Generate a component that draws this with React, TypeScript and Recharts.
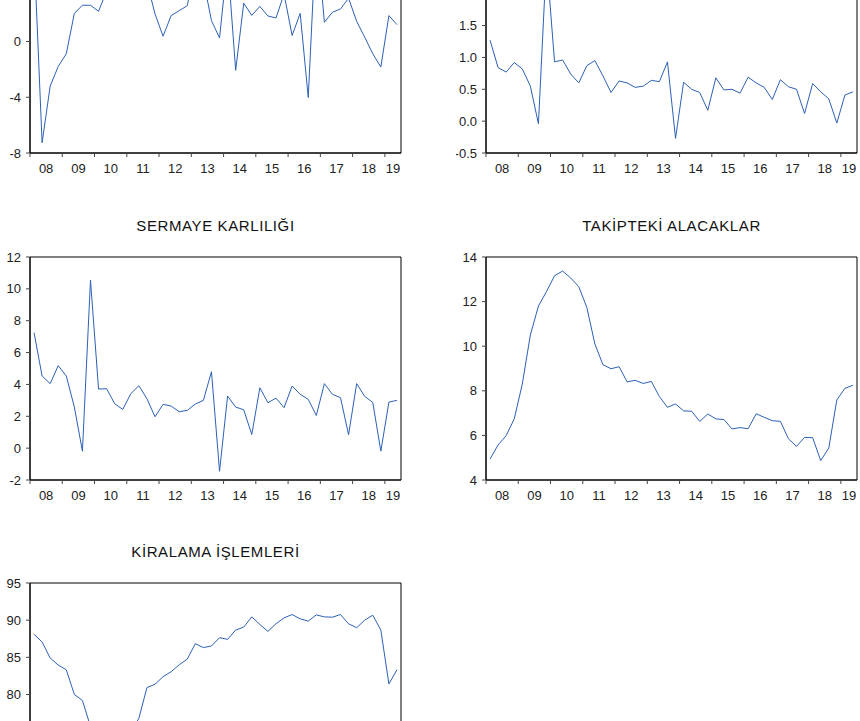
import { LineChart, Line, XAxis, YAxis, ReferenceArea } from "recharts";

const years = ["08", "09", "10", "11", "12", "13", "14", "15", "16", "17", "18", "19"];
const yearTicks = [0, 4, 8, 12, 16, 20, 24, 28, 32, 36, 40, 44];

// 2008Q1 .. 2019Q2
const ustSol = [
  6.5, -7.26, -3.2, -1.79, -0.88, 2.02, 2.6, 2.6, 2.17, 3.6,
  5.0, 6.0, 4.5, 5.5, 4.26, 1.98, 0.38, 1.86, 2.21, 2.57,
  5.5, 4.4, 1.5, 0.26, 5.8, -2.07, 2.75, 1.88, 2.52, 1.83,
  1.69, 3.4, 0.43, 2.02, -4.02, 8.0, 1.38, 2.1, 2.33, 3.1,
  1.45, 0.31, -0.88, -1.83, 1.86, 1.21,
];
const aktifKarliligi = [
  1.27, 0.84, 0.77, 0.92, 0.82, 0.55, -0.04, 2.55, 0.93, 0.96,
  0.74, 0.6, 0.87, 0.95, 0.71, 0.45, 0.63, 0.6, 0.53, 0.55,
  0.64, 0.62, 0.93, -0.27, 0.61, 0.5, 0.45, 0.17, 0.68, 0.49,
  0.5, 0.44, 0.69, 0.6, 0.53, 0.34, 0.65, 0.54, 0.5, 0.12,
  0.59, 0.46, 0.35, -0.03, 0.41, 0.46,
];
const sermayeKarliligi = [
  7.25, 4.53, 4.05, 5.18, 4.53, 2.58, -0.19, 10.55, 3.71, 3.73,
  2.79, 2.43, 3.42, 3.92, 3.1, 1.97, 2.75, 2.64, 2.29, 2.37,
  2.77, 3.0, 4.8, -1.45, 3.27, 2.58, 2.41, 0.86, 3.79, 2.85,
  3.14, 2.54, 3.9, 3.38, 3.06, 2.05, 4.05, 3.38, 3.17, 0.84,
  4.05, 3.25, 2.87, -0.19, 2.89, 3.0,
];
const takiptekiAlacaklar = [
  4.94, 5.57, 5.99, 6.74, 8.3, 10.5, 11.8, 12.45, 13.16, 13.37,
  13.06, 12.67, 11.74, 10.1, 9.17, 8.99, 9.08, 8.4, 8.47, 8.33,
  8.42, 7.74, 7.26, 7.41, 7.1, 7.08, 6.63, 6.96, 6.74, 6.71,
  6.29, 6.35, 6.3, 6.97, 6.81, 6.66, 6.63, 5.85, 5.51, 5.91,
  5.9, 4.87, 5.43, 7.59, 8.11, 8.25,
];
const kiralamaIslemleri = [
  88.1, 87.07, 84.9, 83.96, 83.33, 80.0, 79.2, 75.7, 73.5, 72.5,
  72.8, 73.8, 75.0, 76.8, 80.93, 81.38, 82.4, 83.07, 84.0, 84.76,
  86.84, 86.31, 86.53, 87.64, 87.42, 88.67, 89.07, 90.44, 89.42, 88.49,
  89.51, 90.31, 90.76, 90.18, 89.87, 90.71, 90.44, 90.4, 90.76, 89.51,
  88.98, 90.0, 90.67, 88.67, 81.42, 83.33,
];

const QUARTERS = 46;
const PLOT_W = 371;
const PLOT_H = 223;
const Y_AXIS_W = 30;
const X_AXIS_H = 30;
const M_TOP = 10;
const M_RIGHT = 10;
const FONT = "'Liberation Sans', Arial, sans-serif";
const LINE_COLOR = "#2d60b6";

// the picture is cut at top and bottom, so only ticks/labels that show are listed
const panels = [
  { title: "", values: ustSol, left: 30, top: -70, domain: [-8, 8], ticks: [-8, -4, 0], dec: 0, xLabels: true },
  { title: "", values: aktifKarliligi, left: 486, top: -70, domain: [-0.5, 3], ticks: [-0.5, 0, 0.5, 1, 1.5], dec: 1, xLabels: true },
  { title: "SERMAYE KARLILIĞI", values: sermayeKarliligi, left: 30, top: 257, domain: [-2, 12], ticks: [-2, 0, 2, 4, 6, 8, 10, 12], dec: 0, xLabels: true },
  { title: "TAKİPTEKİ ALACAKLAR", values: takiptekiAlacaklar, left: 486, top: 257, domain: [4, 14], ticks: [4, 6, 8, 10, 12, 14], dec: 0, xLabels: true },
  { title: "KİRALAMA İŞLEMLERİ", values: kiralamaIslemleri, left: 30, top: 583, domain: [65, 95], ticks: [80, 85, 90, 95], dec: 0, xLabels: false },
];

function YearTick(props: any) {
  const { x, y, payload, show } = props;
  if (!show) return <g />;
  const q = payload.value;
  const span = q === 44 ? QUARTERS - 44 : 4;
  const cx = x + (span / 2) * (PLOT_W / QUARTERS);
  return (
    <text x={cx} y={y + 1} dy="0.71em" textAnchor="middle" fontSize={13} fill="#222" fontFamily={FONT}>
      {years[q / 4]}
    </text>
  );
}

function Panel({ p }: { p: any }) {
  const data = p.values.map((v: number, i: number) => ({ x: i + 0.5, v }));
  return (
    <div style={{ position: "absolute", left: p.left - Y_AXIS_W, top: p.top - M_TOP }}>
      <LineChart
        width={Y_AXIS_W + PLOT_W + M_RIGHT}
        height={M_TOP + PLOT_H + X_AXIS_H}
        data={data}
        margin={{ top: M_TOP, right: M_RIGHT, bottom: 0, left: 0 }}
      >
        <XAxis
          dataKey="x"
          type="number"
          domain={[0, QUARTERS]}
          ticks={yearTicks}
          interval={0}
          height={X_AXIS_H}
          tickSize={4}
          tickMargin={6}
          tick={<YearTick show={p.xLabels} />}
          axisLine={{ stroke: "#000" }}
          tickLine={{ stroke: "#444" }}
          allowDataOverflow
        />
        <YAxis
          type="number"
          domain={p.domain}
          ticks={p.ticks}
          interval={0}
          width={Y_AXIS_W}
          tickSize={4}
          tickMargin={5}
          tickFormatter={(v: number) => v.toFixed(p.dec)}
          tick={{ fontSize: 13, fill: "#222", fontFamily: FONT }}
          axisLine={{ stroke: "#000" }}
          tickLine={{ stroke: "#444" }}
          allowDataOverflow
        />
        <ReferenceArea
          x1={0}
          x2={QUARTERS}
          y1={p.domain[0]}
          y2={p.domain[1]}
          fill="none"
          stroke="#000"
          strokeWidth={1}
          ifOverflow="visible"
        />
        <Line
          type="linear"
          dataKey="v"
          stroke={LINE_COLOR}
          strokeWidth={1}
          dot={false}
          activeDot={false}
          isAnimationActive={false}
        />
      </LineChart>
    </div>
  );
}

export default function App() {
  return (
    <div
      style={{
        position: "absolute",
        left: 0,
        top: 0,
        width: 860,
        height: 721,
        overflow: "hidden",
        background: "#fff",
        fontFamily: FONT,
      }}
    >
      {panels.map((p, i) => (
        <Panel key={i} p={p} />
      ))}

      {/* Titles */}
      {panels
        .filter((p) => p.title)
        .map((p) => (
          <div
            key={p.title}
            style={{
              position: "absolute",
              left: p.left,
              width: PLOT_W,
              top: p.top - 41,
              height: 20,
              lineHeight: "20px",
              textAlign: "center",
              fontSize: 15,
              letterSpacing: 0.6,
              color: "#111",
            }}
          >
            {p.title}
          </div>
        ))}
    </div>
  );
}
